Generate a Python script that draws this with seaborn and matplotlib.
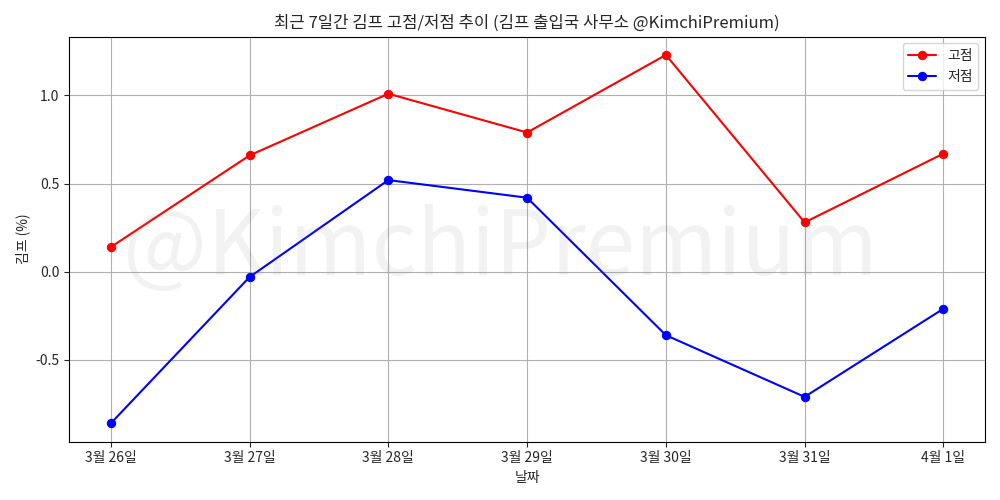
import matplotlib
matplotlib.use("Agg")
import matplotlib.pyplot as plt
import seaborn as sns
import pandas as pd

dates = ["3월 26일", "3월 27일", "3월 28일", "3월 29일", "3월 30일", "3월 31일", "4월 1일"]
highs = [0.14, 0.66, 1.01, 0.79, 1.23, 0.28, 0.67]
lows = [-0.86, -0.03, 0.52, 0.42, -0.36, -0.71, -0.21]

sns.set_style("white")
plt.rcParams['font.family'] = ['Noto Sans CJK KR', 'DejaVu Sans']
plt.rcParams['axes.unicode_minus'] = False

df = pd.DataFrame({"x": range(len(dates)), "high": highs, "low": lows})
fig, ax = plt.subplots(figsize=(10, 5), dpi=100)
fig.text(0.5, 0.5, "@KimchiPremium", fontsize=64, color="gray", alpha=0.1,
         ha="center", va="center")
sns.lineplot(data=df, x="x", y="high", color="red", marker="o", markersize=6,
             markeredgecolor="red", label="고점", ax=ax)
sns.lineplot(data=df, x="x", y="low", color="blue", marker="o", markersize=6,
             markeredgecolor="blue", label="저점", ax=ax)
ax.set_xticks(range(len(dates)))
ax.set_xticklabels(dates)
ax.set_yticks([-0.5, 0.0, 0.5, 1.0])
ax.grid(True, color="#b0b0b0", linewidth=0.8)
for s in ax.spines.values():
    s.set_color("black"); s.set_linewidth(0.8)
ax.tick_params(left=True, bottom=True, length=3.5)
ax.set_xlabel("날짜")
ax.set_ylabel("김프 (%)")
ax.set_title("최근 7일간 김프 고점/저점 추이 (김프 출입국 사무소 @KimchiPremium)")
ax.legend(loc="upper right")
fig.tight_layout()
fig.savefig("out.png")
